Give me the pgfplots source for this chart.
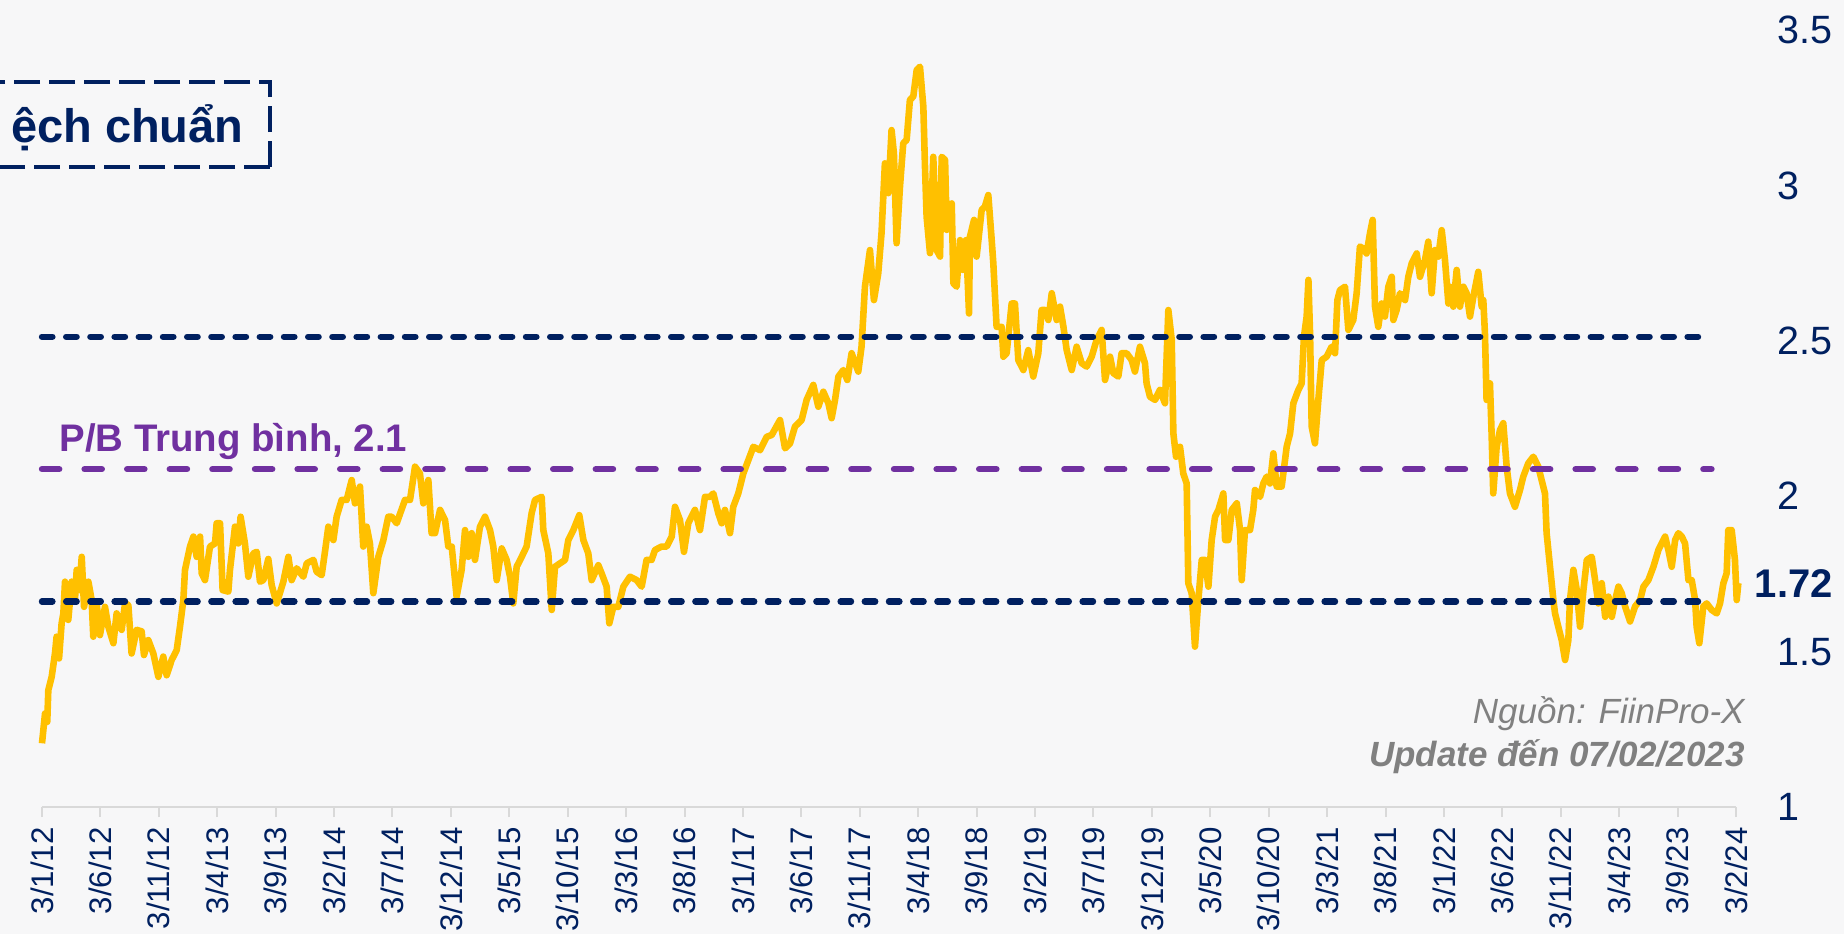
\documentclass[border=0pt]{standalone}
\usepackage{fontspec}
\setmainfont{Liberation Sans}
\usepackage{pgfplots}
\usepackage{pgfplotstable}
\pgfplotsset{compat=1.18}
\definecolor{navy}{RGB}{0,32,96}
\definecolor{pbpurple}{RGB}{112,48,160}
\definecolor{gold}{RGB}{255,192,0}
\definecolor{bgc}{RGB}{247,247,248}
\definecolor{axgray}{RGB}{217,217,217}
\definecolor{srcgray}{RGB}{128,128,128}

% m = months since 3/1/2012, v = P/B
\pgfplotstableread{
m v
0 1.205
0.26 1.301
0.45 1.274
0.54 1.376
0.83 1.419
1.11 1.494
1.25 1.548
1.46 1.478
1.68 1.591
1.83 1.623
1.97 1.725
2.25 1.602
2.54 1.725
2.82 1.666
2.97 1.763
3.2 1.698
3.4 1.805
3.6 1.644
3.97 1.725
4.25 1.666
4.39 1.548
4.68 1.655
4.96 1.553
5.39 1.644
5.68 1.580
6.11 1.527
6.39 1.623
6.82 1.570
7.11 1.655
7.39 1.65
7.67 1.494
8.1 1.570
8.53 1.565
8.73 1.489
9.1 1.537
9.53 1.494
9.96 1.419
10.38 1.484
10.67 1.424
11.1 1.473
11.53 1.505
11.81 1.580
12.1 1.666
12.24 1.763
12.67 1.838
12.96 1.870
13.24 1.805
13.53 1.870
13.67 1.752
13.95 1.730
14.38 1.838
14.81 1.848
14.95 1.913
15.24 1.913
15.46 1.698
15.95 1.693
16.09 1.763
16.52 1.902
16.8 1.848
17.0 1.934
17.37 1.848
17.66 1.741
18.09 1.816
18.38 1.821
18.66 1.725
18.95 1.730
19.37 1.798
19.66 1.714
20.09 1.655
20.66 1.725
21.09 1.805
21.37 1.730
21.8 1.768
22.37 1.741
22.66 1.784
23.23 1.795
23.51 1.757
23.94 1.746
24.22 1.821
24.51 1.902
24.94 1.859
25.22 1.934
25.65 1.988
26.08 1.988
26.51 2.052
26.79 1.977
27.22 2.031
27.5 1.838
27.79 1.902
28.07 1.848
28.36 1.688
28.79 1.805
29.22 1.859
29.64 1.934
29.93 1.934
30.36 1.913
31.07 1.988
31.5 1.988
31.93 2.095
32.35 2.073
32.64 1.977
33.07 2.052
33.35 1.881
33.64 1.881
34.07 1.956
34.5 1.923
34.78 1.838
35.07 1.838
35.49 1.677
35.92 1.763
36.21 1.891
36.49 1.805
36.78 1.881
37.06 1.795
37.49 1.902
37.92 1.934
38.35 1.891
38.63 1.838
38.92 1.730
39.35 1.832
39.77 1.795
40.06 1.741
40.34 1.655
40.63 1.773
41.06 1.805
41.48 1.838
41.91 1.945
42.2 1.988
42.77 1.998
42.91 1.891
43.34 1.816
43.63 1.634
43.91 1.773
44.34 1.784
44.77 1.795
45.05 1.859
45.48 1.891
45.99 1.939
46.34 1.859
46.76 1.816
47.05 1.730
47.62 1.778
47.9 1.752
48.33 1.709
48.56 1.591
48.9 1.644
49.33 1.644
49.76 1.709
50.33 1.741
50.9 1.730
51.33 1.709
51.75 1.795
52.18 1.795
52.47 1.827
53.04 1.838
53.47 1.838
53.9 1.870
54.18 1.966
54.61 1.923
54.95 1.821
55.32 1.913
55.89 1.956
56.32 1.891
56.75 1.998
57.18 1.998
57.46 2.009
57.89 1.945
58.18 1.913
58.46 1.956
58.89 1.881
59.17 1.966
59.6 2.009
60.03 2.073
60.46 2.116
60.89 2.159
61.46 2.148
62.03 2.191
62.46 2.197
63.17 2.245
63.6 2.154
64.03 2.170
64.45 2.224
65.02 2.245
65.45 2.310
66.02 2.358
66.45 2.288
66.88 2.336
67.31 2.299
67.59 2.251
67.88 2.310
68.17 2.385
68.59 2.406
68.93 2.374
69.3 2.460
69.87 2.401
70.15 2.481
70.44 2.674
70.87 2.792
71.21 2.631
71.58 2.717
71.86 2.846
72.15 3.071
72.44 2.975
72.72 3.178
72.92 3.103
73.15 2.814
73.44 2.996
73.72 3.136
74.01 3.146
74.29 3.275
74.58 3.286
74.87 3.371
75.15 3.382
75.44 3.253
75.58 3.060
75.72 2.899
76.01 2.782
76.29 3.092
76.58 2.792
76.87 2.771
77.01 3.092
77.3 3.082
77.44 2.857
77.87 2.942
78.01 2.685
78.29 2.674
78.58 2.824
78.81 2.728
79.09 2.824
79.35 2.588
79.43 2.835
79.78 2.889
80.0 2.771
80.43 2.921
80.71 2.932
81.0 2.969
81.29 2.824
81.43 2.749
81.71 2.545
82.14 2.545
82.29 2.449
82.57 2.460
83.0 2.620
83.28 2.620
83.57 2.438
84.0 2.406
84.42 2.470
84.85 2.385
85.28 2.460
85.56 2.599
85.85 2.599
86.14 2.567
86.43 2.653
86.85 2.567
87.14 2.610
87.43 2.545
87.71 2.470
88.14 2.406
88.56 2.481
88.99 2.428
89.42 2.417
89.85 2.449
90.27 2.503
90.7 2.535
90.99 2.374
91.42 2.449
91.7 2.396
92.13 2.385
92.41 2.460
92.84 2.460
93.27 2.438
93.55 2.401
93.98 2.481
94.41 2.428
94.55 2.363
94.84 2.320
95.27 2.310
95.69 2.342
96.12 2.299
96.41 2.599
96.7 2.503
96.84 2.202
97.07 2.127
97.41 2.159
97.69 2.073
97.98 2.041
98.12 1.720
98.41 1.688
98.69 1.516
98.98 1.666
99.27 1.795
99.55 1.795
99.84 1.709
100.12 1.859
100.41 1.934
100.7 1.956
101.12 2.009
101.27 1.859
101.55 1.859
101.84 1.956
102.27 1.977
102.55 1.891
102.69 1.730
102.97 1.891
103.4 1.891
103.68 1.956
103.83 2.020
104.26 1.998
104.54 2.041
104.83 2.063
105.11 2.041
105.4 2.138
105.68 2.031
106.11 2.031
106.54 2.159
106.83 2.202
107.11 2.299
107.54 2.342
107.82 2.363
108.02 2.513
108.25 2.578
108.4 2.696
108.54 2.524
108.68 2.224
108.96 2.170
109.25 2.310
109.54 2.438
109.96 2.449
110.39 2.481
110.68 2.460
110.88 2.631
111.1 2.663
111.53 2.674
111.82 2.535
112.24 2.567
112.53 2.653
112.81 2.803
113.1 2.797
113.38 2.781
113.67 2.846
113.9 2.889
114.1 2.610
114.38 2.545
114.67 2.620
114.95 2.578
115.24 2.674
115.53 2.706
115.67 2.567
115.95 2.599
116.24 2.653
116.67 2.631
116.95 2.706
117.24 2.749
117.67 2.781
117.95 2.706
118.38 2.760
118.66 2.819
118.95 2.653
119.23 2.792
119.52 2.771
119.81 2.856
120.09 2.760
120.38 2.620
120.52 2.674
120.8 2.610
121.09 2.728
121.37 2.610
121.66 2.674
121.94 2.653
122.23 2.578
122.52 2.642
122.94 2.722
123.23 2.610
123.37 2.631
123.51 2.524
123.65 2.310
123.94 2.363
124.08 2.202
124.22 2.009
124.51 2.159
124.8 2.213
125.08 2.235
125.37 2.095
125.65 2.009
126.08 1.966
126.51 2.020
126.79 2.063
127.22 2.106
127.65 2.127
128.08 2.095
128.36 2.052
128.65 2.009
128.79 1.881
129.08 1.773
129.37 1.666
129.51 1.623
129.79 1.580
130.08 1.537
130.37 1.473
130.65 1.537
130.79 1.666
131.08 1.763
131.37 1.698
131.65 1.580
131.94 1.698
132.23 1.795
132.65 1.805
132.94 1.730
133.22 1.655
133.51 1.720
133.8 1.612
134.08 1.677
134.37 1.612
134.65 1.666
134.94 1.709
135.22 1.688
135.51 1.645
135.93 1.597
136.36 1.645
136.79 1.666
137.08 1.709
137.5 1.730
137.93 1.773
138.36 1.827
138.64 1.848
138.93 1.870
139.21 1.827
139.5 1.773
139.79 1.859
140.07 1.881
140.36 1.870
140.64 1.848
140.93 1.730
141.21 1.730
141.5 1.666
141.63 1.580
141.86 1.527
142.2 1.645
142.49 1.655
142.92 1.634
143.35 1.623
143.63 1.655
143.92 1.720
144.2 1.752
144.34 1.891
144.63 1.891
144.91 1.795
145.06 1.666
145.2 1.720
}\pbdata

\begin{document}
\begin{tikzpicture}
\useasboundingbox (-21pt,-63.5pt) rectangle (901pt,403.5pt);
\fill[bgc] (-21pt,-63.5pt) rectangle (901pt,403.5pt);
\begin{axis}[
  at={(0pt,0pt)}, anchor=south west,
  scale only axis, width=847pt, height=388.5pt,
  xmin=0, xmax=145, ymin=1, ymax=3.5,
  clip=false,
  axis line style={draw=none},
  xtick={0,5,...,145},
  xticklabels={3/1/12,3/6/12,3/11/12,3/4/13,3/9/13,3/2/14,3/7/14,3/12/14,3/5/15,3/10/15,3/3/16,3/8/16,3/1/17,3/6/17,3/11/17,3/4/18,3/9/18,3/2/19,3/7/19,3/12/19,3/5/20,3/10/20,3/3/21,3/8/21,3/1/22,3/6/22,3/11/22,3/4/23,3/9/23,3/2/24},
  xtick pos=left,
  tick align=outside,
  major tick length=5pt,
  xtick style={draw=axgray, line width=1pt},
  xticklabel style={rotate=90, anchor=east, inner xsep=5pt, inner ysep=0pt, font=\fontsize{15.6}{18}\selectfont, text=navy},
  ytick={1,1.5,2,2.5,3,3.5},
  yticklabels={1,1.5,2,2.5,3,3.5},
  ytick style={draw=none},
  yticklabel pos=right,
  yticklabel style={anchor=west, inner sep=0pt, xshift=15.5pt, font=\fontsize{19.75}{22}\selectfont, text=navy},
]
\draw[axgray, line width=1pt] (rel axis cs:0,0) -- (rel axis cs:1,0);
\addplot[gold, line width=3.3pt, line join=round, mark=none] table[x=m, y=v] {\pbdata};
\addplot[navy, line width=3.2pt, line cap=round, dash pattern=on 5.2pt off 6.9pt, mark=none] coordinates {(0,2.513) (142.9,2.513)};
\addplot[navy, line width=3.2pt, line cap=round, dash pattern=on 5.2pt off 6.9pt, mark=none] coordinates {(0,1.661) (142.9,1.661)};
\addplot[pbpurple, line width=3.2pt, line cap=round, dash pattern=on 8.6pt off 12.7pt, mark=none] coordinates {(0,2.087) (142.9,2.087)};
\end{axis}
% annotations
\draw[navy, line width=2pt, dash pattern=on 13pt off 4.5pt] (114pt,320pt) -- (-21pt,320pt) (114pt,320pt) -- (114pt,362.5pt) -- (-21pt,362.5pt);
\node[anchor=base east, inner sep=0pt, text=navy, font=\bfseries\fontsize{23.5}{26}\selectfont] at (101pt,332.5pt) {ệch chuẩn};
\node[anchor=base west, inner sep=0pt, text=pbpurple, font=\bfseries\fontsize{19.2}{22}\selectfont] at (8.5pt,177.6pt) {P/B Trung bình, 2.1};
\node[anchor=east, inner sep=0pt, text=navy, font=\bfseries\fontsize{20}{22}\selectfont] at (895.5pt,111.5pt) {1.72};
\node[anchor=base east, inner sep=0pt, text=srcgray, font=\itshape\fontsize{17.5}{20}\selectfont] at (851.5pt,42pt) {Nguồn: FiinPro-X};
\node[anchor=base east, inner sep=0pt, text=srcgray, font=\bfseries\itshape\fontsize{17.5}{20}\selectfont] at (851.5pt,20.5pt) {Update đến 07/02/2023};
\end{tikzpicture}
\end{document}
